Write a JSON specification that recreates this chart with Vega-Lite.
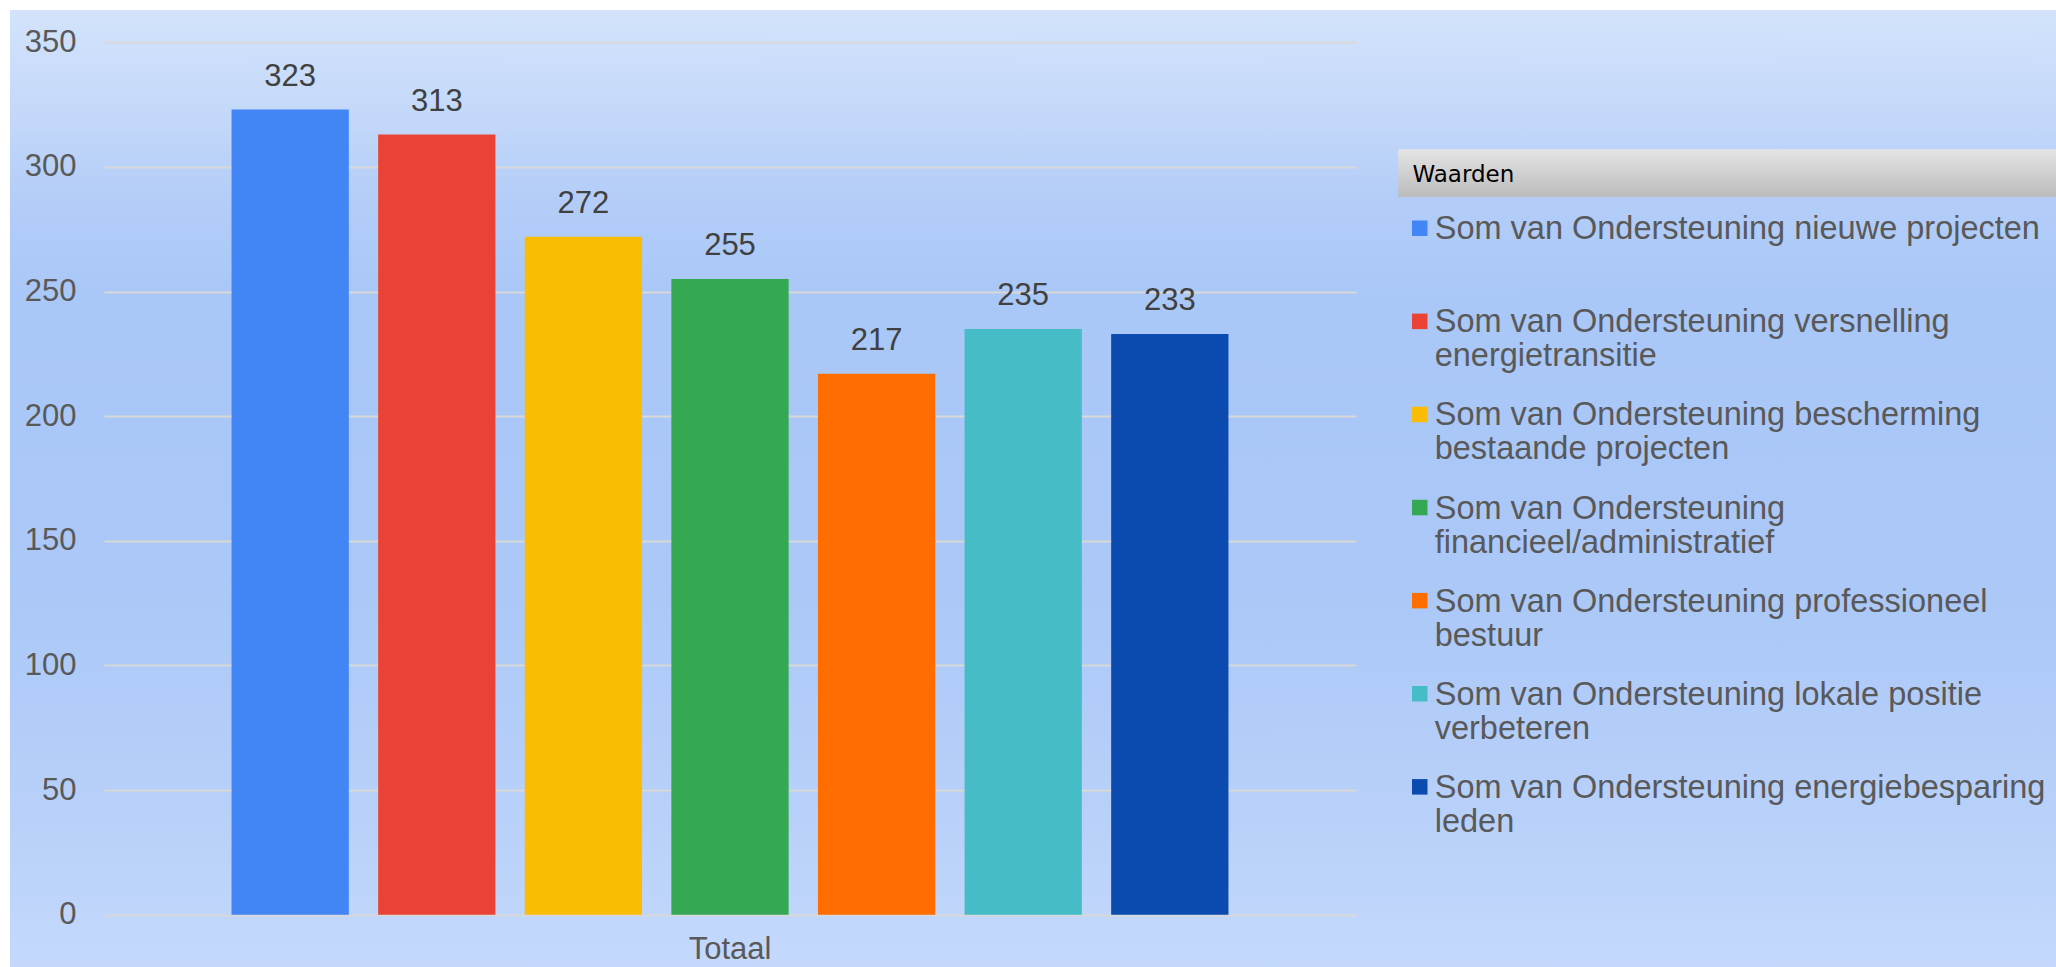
{
  "$schema": "https://vega.github.io/schema/vega-lite/v6.json",
  "width": 2046,
  "height": 957,
  "autosize": {"type": "none"},
  "padding": {"left": 10, "top": 10, "right": 0, "bottom": 0},
  "background": "white",
  "config": {
    "font": "Liberation Sans",
    "view": {
      "stroke": null,
      "fill": {
        "gradient": "linear",
        "x1": 0, "y1": 0, "x2": 0, "y2": 1,
        "stops": [
          {"offset": 0, "color": "#d3e3fb"},
          {"offset": 0.12, "color": "#c2d7f9"},
          {"offset": 0.2, "color": "#b3cdf8"},
          {"offset": 0.3, "color": "#a9c7f7"},
          {"offset": 0.62, "color": "#abc8f7"},
          {"offset": 0.9, "color": "#bcd3fa"},
          {"offset": 1, "color": "#c4d9fc"}
        ]
      }
    }
  },
  "data": {
    "values": [
      {"group": "Totaal", "series": "Som van Ondersteuning nieuwe projecten", "value": 323},
      {"group": "Totaal", "series": "Som van Ondersteuning versnelling energietransitie", "value": 313},
      {"group": "Totaal", "series": "Som van Ondersteuning bescherming bestaande projecten", "value": 272},
      {"group": "Totaal", "series": "Som van Ondersteuning financieel/administratief", "value": 255},
      {"group": "Totaal", "series": "Som van Ondersteuning professioneel bestuur", "value": 217},
      {"group": "Totaal", "series": "Som van Ondersteuning lokale positie verbeteren", "value": 235},
      {"group": "Totaal", "series": "Som van Ondersteuning energiebesparing leden", "value": 233}
    ]
  },
  "encoding": {
    "x": {
      "field": "group",
      "type": "nominal",
      "scale": {"range": [94, 1346], "paddingInner": 0, "paddingOuter": 0.11},
      "axis": {
        "title": null,
        "offset": -52.3,
        "domain": false,
        "ticks": false,
        "grid": false,
        "labelAngle": 0,
        "labelFont": "Liberation Sans",
        "labelFontSize": 31,
        "labelColor": "#595959",
        "labelPadding": 20
      }
    },
    "xOffset": {
      "field": "series",
      "type": "nominal",
      "sort": null,
      "scale": {"paddingInner": 0.2, "paddingOuter": 0.1}
    },
    "y": {
      "field": "value",
      "type": "quantitative",
      "scale": {"domain": [0, 350], "range": [904.7, 32.3], "nice": false},
      "axis": {
        "title": null,
        "offset": -94,
        "values": [0, 50, 100, 150, 200, 250, 300, 350],
        "domain": false,
        "ticks": false,
        "grid": true,
        "gridColor": "#d8d8d8",
        "gridWidth": 2,
        "labelFont": "Liberation Sans",
        "labelFontSize": 31,
        "labelColor": "#595959",
        "labelPadding": 28
      }
    }
  },
  "layer": [
    {
      "mark": {"type": "bar"},
      "encoding": {
        "color": {
          "field": "series",
          "type": "nominal",
          "sort": null,
          "scale": {
            "domain": [
              "Som van Ondersteuning nieuwe projecten",
              "Som van Ondersteuning versnelling energietransitie",
              "Som van Ondersteuning bescherming bestaande projecten",
              "Som van Ondersteuning financieel/administratief",
              "Som van Ondersteuning professioneel bestuur",
              "Som van Ondersteuning lokale positie verbeteren",
              "Som van Ondersteuning energiebesparing leden"
            ],
            "range": ["#4285f4", "#ea4335", "#fbbc04", "#34a853", "#ff6d01", "#46bdc6", "#0b4aae"]
          },
          "legend": {
            "orient": "none",
            "legendX": 1388.3,
            "legendY": 139.3,
            "padding": 14.2,
            "title": "Waarden",
            "titleFont": "DejaVu Sans",
            "titleFontSize": 23,
            "titleFontWeight": "normal",
            "titleColor": "#000000",
            "titlePadding": 25.5,
            "symbolType": "square",
            "symbolSize": 240,
            "symbolStrokeWidth": 0,
            "symbolOpacity": 1,
            "symbolOffset": -9,
            "labelOffset": -1.3,
            "labelFont": "Liberation Sans",
            "labelFontSize": 32.5,
            "labelColor": "#595959",
            "labelLimit": 2000,
            "labelBaseline": "alphabetic",
            "labelExpr": "length(datum.label) > 38 ? split(replace(datum.label, /^(.{1,38}) (.*)$/, '$1|$2'), '|') : datum.label",
            "rowPadding": 25.1,
            "gridAlign": "all",
            "columns": 1,
            "encode": {
              "legend": {
                "update": {
                  "fill": {
                    "value": {
                      "gradient": "linear",
                      "x1": 0, "y1": 0, "x2": 0, "y2": 1,
                      "stops": [
                        {"offset": 0, "color": "#e4e4e4"},
                        {"offset": 0.0675, "color": "#bcbcbc"},
                        {"offset": 0.0676, "color": "rgba(255,255,255,0)"},
                        {"offset": 1, "color": "rgba(255,255,255,0)"}
                      ]
                    }
                  }
                }
              },
              "labels": {"update": {"lineHeight": {"value": 34}, "dy": {"value": 11}}}
            }
          }
        }
      }
    },
    {
      "mark": {"type": "text", "baseline": "alphabetic", "dy": -24, "fontSize": 31, "font": "Liberation Sans", "color": "#404040"},
      "encoding": {
        "text": {"field": "value", "type": "quantitative"}
      }
    }
  ]
}
